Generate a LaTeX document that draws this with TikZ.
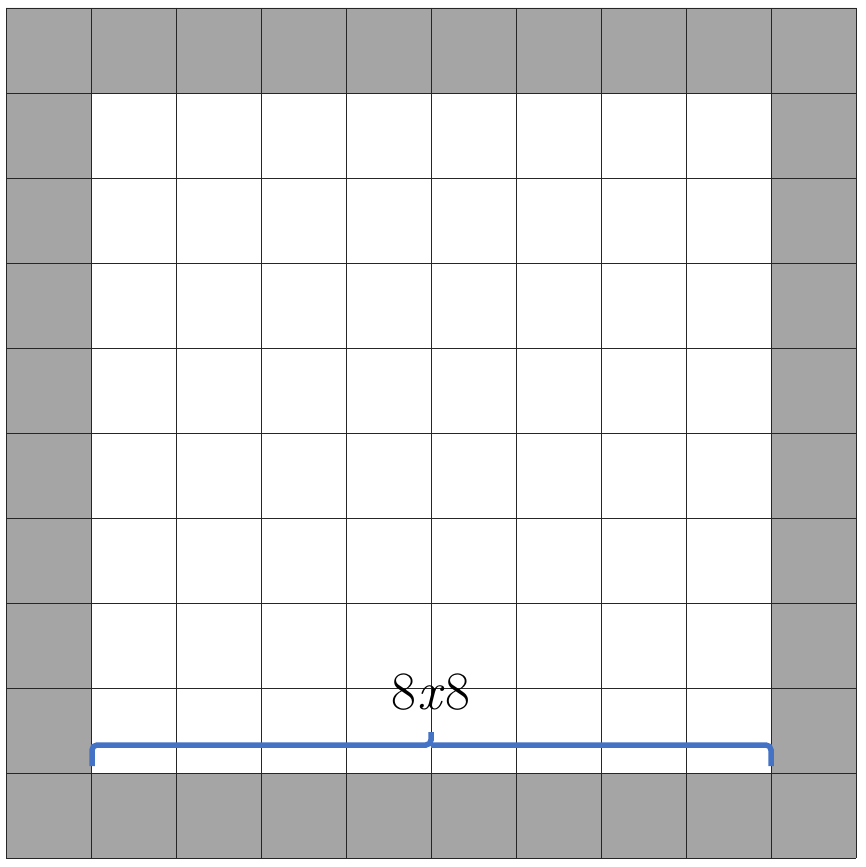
\documentclass[tikz,border=0pt]{standalone}
\begin{document}
\begin{tikzpicture}[x=1pt,y=-1pt]
\definecolor{cellgray}{HTML}{A5A5A5}
\definecolor{braceblue}{HTML}{4472C4}
\tikzset{gridline/.style={draw=black!85,line width=0.8pt},
  bracestyle/.style={draw=braceblue,line width=5.5pt,rounded corners=5pt}}
\useasboundingbox (0,0) rectangle (866,867);
% gray ring
\fill[cellgray,even odd rule] (6,8) rectangle (856,858) (91,93) rectangle (771,773);
% grid
\foreach \i in {0,...,10} {
  \draw[gridline] (6+85*\i,8) -- (6+85*\i,858);
  \draw[gridline] (6,8+85*\i) -- (856,8+85*\i);
}
% brace
\coordinate (bl) at (92,766);
\coordinate (bm) at (431,745);
\coordinate (bt) at (431,732);
\coordinate (br) at (771,766);
\draw[bracestyle] (bl) |- (bm) -- (bt);
\draw[bracestyle] (br) |- (bm);
\node[font=\fontsize{54}{60}\selectfont,inner sep=0pt] (lbl) at (431,692) {8\kern1pt\textit{x}\kern1pt8};
\end{tikzpicture}
\end{document}
